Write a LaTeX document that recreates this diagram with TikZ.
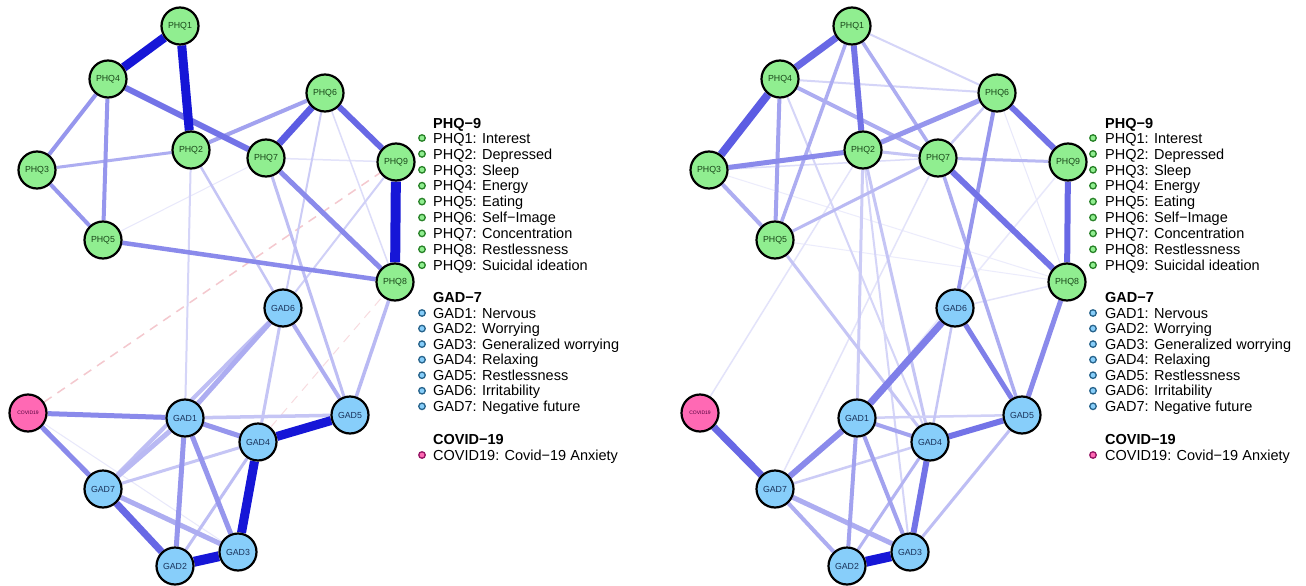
\documentclass[tikz,border=0pt]{standalone}
\usepackage{fontspec}
\setmainfont{Liberation Sans}
\usetikzlibrary{backgrounds}
\definecolor{eb}{RGB}{22,22,215}
\definecolor{phqfill}{RGB}{144,238,144}
\definecolor{gadfill}{RGB}{135,206,250}
\definecolor{covfill}{RGB}{255,105,180}
\definecolor{phqtxt}{RGB}{25,70,25}
\definecolor{gadtxt}{RGB}{25,50,90}
\definecolor{covtxt}{RGB}{80,0,60}
\definecolor{negred}{RGB}{225,110,125}
\definecolor{phqdot}{RGB}{40,130,40}
\definecolor{gaddot}{RGB}{40,100,140}
\definecolor{covdot}{RGB}{150,20,100}
\tikzset{
  nd/.style={circle, draw=black, line width=2.2pt, minimum size=37pt, inner sep=0pt},
  phq/.style={nd, fill=phqfill, text=phqtxt, font=\fontsize{8.8}{9}\selectfont},
  gad/.style={nd, fill=gadfill, text=gadtxt, font=\fontsize{8.8}{9}\selectfont},
  cov/.style={nd, fill=covfill, text=covtxt, font=\fontsize{5}{6}\selectfont},
  ed/.style 2 args={line width=#1pt, draw=eb!#2!white},
  neg/.style 2 args={line width=#1pt, draw=negred!#2!white, dash pattern=on 9pt off 7pt},
  lhead/.style={anchor=west, inner sep=0pt, font=\fontsize{14.5}{15}\bfseries, text height=10.4pt, text depth=0pt},
  ltext/.style={anchor=west, inner sep=0pt, font=\fontsize{14.5}{15}\selectfont, text height=10.4pt, text depth=0pt},
  ldot/.style={circle, line width=1.3pt, minimum size=6.5pt, inner sep=0pt},
  dphq/.style={ldot, draw=phqdot, fill=phqfill},
  dgad/.style={ldot, draw=gaddot, fill=gadfill},
  dcov/.style={ldot, draw=covdot, fill=covfill},
}
\begin{document}
\begin{tikzpicture}[x=1pt, y=-1pt]
\useasboundingbox (0,0) rectangle (1306,586);
% ---------- nodes (both panels share the layout) ----------
\foreach \p/\o in {L/0, R/672} {
  \node[phq] (\p-PHQ1) at (180+\o,26) {PHQ1};
  \node[phq] (\p-PHQ4) at (108+\o,79) {PHQ4};
  \node[phq] (\p-PHQ6) at (325+\o,93) {PHQ6};
  \node[phq] (\p-PHQ2) at (191+\o,150) {PHQ2};
  \node[phq] (\p-PHQ7) at (266+\o,158) {PHQ7};
  \node[phq] (\p-PHQ9) at (396+\o,162) {PHQ9};
  \node[phq] (\p-PHQ3) at (37+\o,170) {PHQ3};
  \node[phq] (\p-PHQ5) at (103+\o,240) {PHQ5};
  \node[phq] (\p-PHQ8) at (395+\o,282) {PHQ8};
  \node[gad] (\p-GAD6) at (283+\o,308) {GAD6};
  \node[cov] (\p-COV) at (28+\o,413) {COVID19};
  \node[gad] (\p-GAD1) at (185+\o,418) {GAD1};
  \node[gad] (\p-GAD5) at (350+\o,415) {GAD5};
  \node[gad] (\p-GAD4) at (258+\o,442) {GAD4};
  \node[gad] (\p-GAD7) at (103+\o,489) {GAD7};
  \node[gad] (\p-GAD3) at (238+\o,552) {GAD3};
  \node[gad] (\p-GAD2) at (175+\o,566) {GAD2};
}
\begin{scope}[on background layer]
\fill[white] (0,0) rectangle (1306,586);
% ---------- left panel edges ----------
\draw[neg={1}{25}] (L-GAD4) -- (L-PHQ8);
\draw[neg={1.5}{38}] (L-COV) -- (L-PHQ9);
\draw[ed={1}{10}] (L-PHQ5) -- (L-PHQ7);
\draw[ed={1}{10}] (L-COV) -- (L-GAD3);
\draw[ed={1.5}{12}] (L-PHQ7) -- (L-PHQ9);
\draw[ed={1.5}{15}] (L-PHQ6) -- (L-PHQ8);
\draw[ed={2}{18}] (L-PHQ2) -- (L-GAD1);
\draw[ed={2}{20}] (L-PHQ9) -- (L-GAD6);
\draw[ed={2}{22}] (L-PHQ6) -- (L-GAD6);
\draw[ed={2.5}{25}] (L-PHQ2) -- (L-GAD6);
\draw[ed={3}{28}] (L-PHQ7) -- (L-GAD5);
\draw[ed={3.5}{30}] (L-PHQ8) -- (L-GAD5);
\draw[ed={3}{25}] (L-GAD6) -- (L-GAD4);
\draw[ed={3}{25}] (L-GAD4) -- (L-GAD7);
\draw[ed={3}{28}] (L-GAD4) -- (L-GAD2);
\draw[ed={3.5}{25}] (L-GAD1) -- (L-GAD5);
\draw[ed={4}{28}] (L-GAD7) -- (L-GAD6);
\draw[ed={5}{30}] (L-GAD1) -- (L-GAD7);
\draw[ed={5}{35}] (L-GAD1) -- (L-GAD6);
\draw[ed={4}{35}] (L-GAD6) -- (L-GAD5);
\draw[ed={5}{35}] (L-GAD7) -- (L-GAD3);
\draw[ed={3}{35}] (L-PHQ3) -- (L-PHQ2);
\draw[ed={4}{40}] (L-PHQ2) -- (L-PHQ6);
\draw[ed={4}{45}] (L-PHQ4) -- (L-PHQ3);
\draw[ed={4}{45}] (L-PHQ4) -- (L-PHQ5);
\draw[ed={4}{45}] (L-PHQ3) -- (L-PHQ5);
\draw[ed={4.5}{50}] (L-PHQ5) -- (L-PHQ8);
\draw[ed={5}{50}] (L-PHQ7) -- (L-PHQ8);
\draw[ed={5}{45}] (L-GAD1) -- (L-GAD4);
\draw[ed={5}{45}] (L-GAD1) -- (L-GAD2);
\draw[ed={5}{45}] (L-GAD1) -- (L-GAD3);
\draw[ed={5}{50}] (L-COV) -- (L-GAD1);
\draw[ed={5}{50}] (L-COV) -- (L-GAD7);
\draw[ed={6}{60}] (L-PHQ4) -- (L-PHQ7);
\draw[ed={6}{65}] (L-PHQ6) -- (L-PHQ9);
\draw[ed={7}{70}] (L-PHQ6) -- (L-PHQ7);
\draw[ed={7}{65}] (L-GAD7) -- (L-GAD2);
\draw[ed={9}{100}] (L-PHQ1) -- (L-PHQ4);
\draw[ed={9}{100}] (L-PHQ1) -- (L-PHQ2);
\draw[ed={10}{100}] (L-PHQ9) -- (L-PHQ8);
\draw[ed={9}{100}] (L-GAD4) -- (L-GAD5);
\draw[ed={9}{100}] (L-GAD4) -- (L-GAD3);
\draw[ed={10}{100}] (L-GAD2) -- (L-GAD3);
% ---------- right panel edges ----------
\draw[ed={1}{8}] (R-PHQ3) -- (R-PHQ8);
\draw[ed={1}{8}] (R-PHQ5) -- (R-PHQ8);
\draw[ed={1}{10}] (R-PHQ6) -- (R-PHQ8);
\draw[ed={1.5}{10}] (R-PHQ9) -- (R-GAD1);
\draw[ed={1.5}{12}] (R-COV) -- (R-PHQ2);
\draw[ed={1.5}{12}] (R-GAD7) -- (R-PHQ7);
\draw[ed={1.5}{12}] (R-PHQ8) -- (R-GAD6);
\draw[ed={1.5}{15}] (R-PHQ3) -- (R-PHQ7);
\draw[ed={2}{18}] (R-PHQ1) -- (R-PHQ6);
\draw[ed={2}{18}] (R-PHQ4) -- (R-PHQ6);
\draw[ed={2}{18}] (R-PHQ4) -- (R-GAD4);
\draw[ed={2}{18}] (R-PHQ2) -- (R-GAD3);
\draw[ed={2.5}{22}] (R-PHQ6) -- (R-PHQ7);
\draw[ed={3}{22}] (R-PHQ2) -- (R-GAD1);
\draw[ed={3}{25}] (R-PHQ2) -- (R-GAD4);
\draw[ed={3}{25}] (R-PHQ5) -- (R-GAD4);
\draw[ed={3}{25}] (R-PHQ2) -- (R-PHQ7);
\draw[ed={2.5}{20}] (R-GAD1) -- (R-GAD5);
\draw[ed={2.5}{25}] (R-GAD6) -- (R-GAD4);
\draw[ed={2.5}{22}] (R-GAD4) -- (R-GAD7);
\draw[ed={3}{28}] (R-GAD5) -- (R-GAD3);
\draw[ed={3}{32}] (R-GAD4) -- (R-GAD2);
\draw[ed={3}{30}] (R-PHQ5) -- (R-PHQ7);
\draw[ed={3}{30}] (R-PHQ7) -- (R-PHQ9);
\draw[ed={3.5}{35}] (R-PHQ1) -- (R-PHQ5);
\draw[ed={3.5}{35}] (R-PHQ1) -- (R-PHQ7);
\draw[ed={3.5}{35}] (R-PHQ7) -- (R-GAD5);
\draw[ed={4}{35}] (R-PHQ3) -- (R-PHQ5);
\draw[ed={4}{35}] (R-PHQ4) -- (R-PHQ7);
\draw[ed={4}{40}] (R-PHQ4) -- (R-PHQ5);
\draw[ed={4}{35}] (R-GAD7) -- (R-GAD2);
\draw[ed={5}{35}] (R-GAD7) -- (R-GAD3);
\draw[ed={4}{40}] (R-GAD1) -- (R-GAD4);
\draw[ed={4}{40}] (R-GAD1) -- (R-GAD2);
\draw[ed={4}{40}] (R-GAD1) -- (R-GAD3);
\draw[ed={4}{45}] (R-PHQ6) -- (R-GAD6);
\draw[ed={5}{50}] (R-PHQ3) -- (R-PHQ2);
\draw[ed={5}{45}] (R-PHQ2) -- (R-PHQ6);
\draw[ed={5}{50}] (R-PHQ8) -- (R-GAD5);
\draw[ed={6}{50}] (R-GAD1) -- (R-GAD7);
\draw[ed={7}{55}] (R-GAD1) -- (R-GAD6);
\draw[ed={5}{55}] (R-GAD6) -- (R-GAD5);
\draw[ed={6}{60}] (R-PHQ1) -- (R-PHQ2);
\draw[ed={6}{60}] (R-PHQ6) -- (R-PHQ9);
\draw[ed={6}{60}] (R-PHQ7) -- (R-PHQ8);
\draw[ed={6}{65}] (R-PHQ9) -- (R-PHQ8);
\draw[ed={6}{60}] (R-GAD4) -- (R-GAD5);
\draw[ed={6}{60}] (R-GAD4) -- (R-GAD3);
\draw[ed={7}{65}] (R-PHQ1) -- (R-PHQ4);
\draw[ed={8}{70}] (R-PHQ4) -- (R-PHQ3);
\draw[ed={7}{65}] (R-COV) -- (R-GAD7);
\draw[ed={10}{100}] (R-GAD2) -- (R-GAD3);
\end{scope}
% ---------- legends ----------
\foreach \p/\dx/\tx in {L/422/433, R/1093/1105} {
  \node[lhead] (\p-hphq) at (\tx,123) {PHQ−9};
  \foreach \t [count=\k] in {PHQ1: Interest, PHQ2: Depressed, PHQ3: Sleep, PHQ4: Energy, PHQ5: Eating, PHQ6: Self−Image, PHQ7: Concentration, PHQ8: Restlessness, PHQ9: Suicidal ideation} {
    \node[dphq] (\p-dp\k) at (\dx,{138+15.9*(\k-1)}) {};
    \node[ltext] (\p-tp\k) at (\tx,{138+15.9*(\k-1)}) {\t};
  }
  \node[lhead] (\p-hgad) at (\tx,297) {GAD−7};
  \foreach \t [count=\k] in {GAD1: Nervous, GAD2: Worrying, GAD3: Generalized worrying, GAD4: Relaxing, GAD5: Restlessness, GAD6: Irritability, GAD7: Negative future} {
    \node[dgad] (\p-dg\k) at (\dx,{313+15.55*(\k-1)}) {};
    \node[ltext] (\p-tg\k) at (\tx,{313+15.55*(\k-1)}) {\t};
  }
  \node[lhead] (\p-hcov) at (\tx,439) {COVID−19};
  \node[dcov] (\p-dc) at (\dx,455) {};
  \node[ltext] (\p-tc) at (\tx,455) {COVID19: Covid−19 Anxiety};
}
\end{tikzpicture}
\end{document}
